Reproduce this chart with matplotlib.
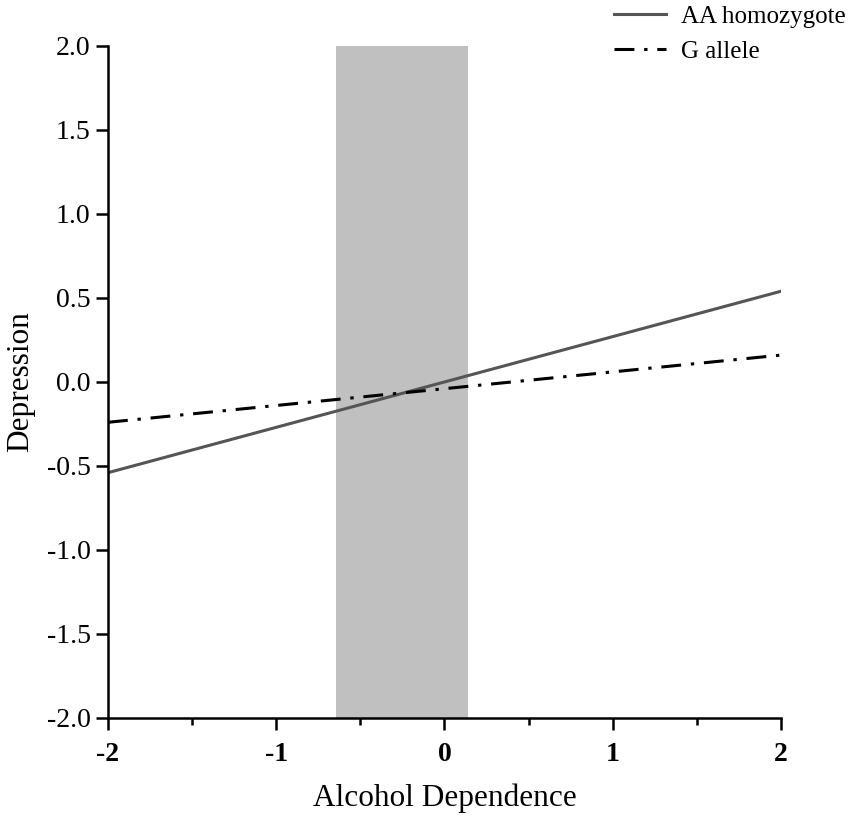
import numpy as np
import matplotlib.pyplot as plt
from matplotlib.ticker import MultipleLocator

plt.rcParams['font.family'] = ['Liberation Serif', 'DejaVu Serif']
plt.rcParams['axes.unicode_minus'] = False

# Dados das retas
x_vals = [-2, 2]
aa_vals = [-0.54, 0.54]
g_vals = [-0.24, 0.16]
faixa = [-0.645, 0.14]

fig = plt.figure(figsize=(8.51, 8.21), dpi=100)
ax = fig.add_axes([0.1269, 0.1255, 0.7908, 0.8185])

ax.axvspan(faixa[0], faixa[1], color='#c0c0c0', lw=0)
l1, = ax.plot(x_vals, aa_vals, color='#555555', lw=2.2, label='AA homozygote')
l2, = ax.plot(x_vals, g_vals, color='black', lw=2.2, dashes=(6.5, 3.2, 1.1, 3.2), label='G allele')

ax.set_xlim(-2, 2)
ax.set_ylim(-2, 2)
ax.xaxis.set_major_locator(MultipleLocator(1))
ax.xaxis.set_minor_locator(MultipleLocator(0.5))
ax.yaxis.set_major_locator(MultipleLocator(0.5))
ax.xaxis.set_major_formatter(plt.FuncFormatter(lambda v, p: f'{v:.0f}'))
ax.yaxis.set_major_formatter(plt.FuncFormatter(lambda v, p: f'{v:.1f}'))

for s in ['top', 'right']:
    ax.spines[s].set_visible(False)
for s in ['left', 'bottom']:
    ax.spines[s].set_linewidth(1.8)
ax.tick_params(axis='both', which='major', direction='out', length=8.5, width=1.8, labelsize=20)
ax.tick_params(axis='x', which='minor', direction='out', length=5, width=1.8)
ax.tick_params(axis='y', pad=4)
ax.tick_params(axis='x', pad=9)
for lab in ax.get_xticklabels():
    lab.set_fontweight('bold')

ax.set_xlabel('Alcohol Dependence', fontsize=22.5, labelpad=12)
ax.set_ylabel('Depression', fontsize=22.5, labelpad=8)

fig.legend(handles=[l1, l2], loc='upper right', bbox_to_anchor=(1.0, 1.0),
           frameon=False, fontsize=18, handlelength=2.1, handletextpad=0.6,
           labelspacing=0.5, borderaxespad=0.0, borderpad=0.2)

plt.savefig('out.png')
